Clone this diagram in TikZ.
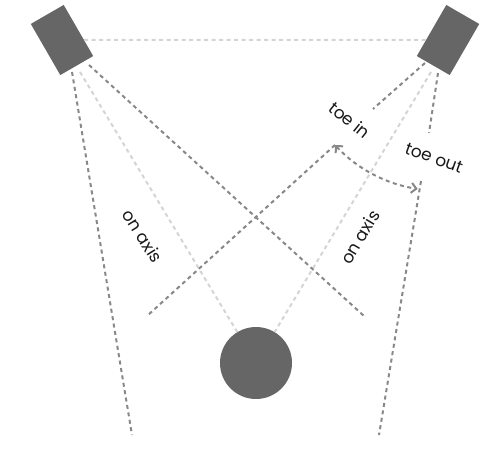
\documentclass[tikz,border=0pt]{standalone}
\usepackage{fontspec}
\setmainfont{Poppins}
\usetikzlibrary{arrows.meta}
\tikzset{
  >={Straight Barb[length=5pt,width=10pt]},
  x=1pt, y=1pt,
}
\definecolor{boxgray}{HTML}{666666}
\definecolor{raygray}{HTML}{888888}
\definecolor{axisgray}{HTML}{D4D4D4}
\tikzstyle{speaker}=[rectangle,fill=boxgray,minimum width=38pt,minimum height=59pt,inner sep=0pt]
\tikzstyle{ray}=[raygray,line width=2pt,dash pattern=on 4pt off 3.5pt]
\tikzstyle{onaxis}=[ray,axisgray]
\tikzstyle{every node}=[font=\fontsize{17}{20}\selectfont,text=black!90,inner sep=1pt]

\begin{document}
\begin{tikzpicture}
      \useasboundingbox (0,0) rectangle (503,-463);
      \node[speaker,rotate=30]  (spkL) at (62,-40) {};
      \node[speaker,rotate=-30] (spkR) at (448,-40) {};
      \node[circle,fill=boxgray,minimum size=72pt,inner sep=0pt] (listener) at (256,-363) {};
      % ray ends
      \coordinate (lOut) at (72,-72);   \coordinate (lOutEnd) at (132,-435);
      \coordinate (lAx) at (80,-72);
      \coordinate (lIn) at (89,-65);    \coordinate (lInEnd) at (364,-316);
      \coordinate (rOut) at (438,-73);  \coordinate (rOutEnd) at (379,-435);
      \coordinate (rAx) at (431,-72);
      \coordinate (rIn) at (425,-63);   \coordinate (rInEnd) at (147,-316);
      \coordinate (rInGap) at (373,-109);  \coordinate (rInTip) at (335,-145);
      \coordinate (rOutGap) at (429,-133); \coordinate (rOutTip) at (421,-181);
      \draw[onaxis] (spkL) -- (spkR);
      \draw[onaxis] (lAx) -- (listener);
      \draw[onaxis] (rAx) -- (listener);
      \draw[ray] (lOut) -- (lOutEnd);
      \draw[ray] (lIn) -- (lInEnd);
      \draw[ray] (rOut) -- (rOutGap);
      \draw[ray] (rOutTip) -- (rOutEnd);
      \draw[ray] (rIn) -- (rInGap);
      \draw[ray] (rInTip) -- (rInEnd);
      \draw[ray,<->] (rInTip) arc[start angle=222.8,end angle=261.3,radius=142];
      \node[rotate=-39] (toeIn) at (350,-120) {toe in};
      \node[rotate=-20] (toeOut) at (434,-158) {toe out};
      \node[rotate=-58] (axL) at (143,-236) {on axis};
      \node[rotate=59]  (axR) at (360,-237) {on axis};
\end{tikzpicture}
\end{document}
